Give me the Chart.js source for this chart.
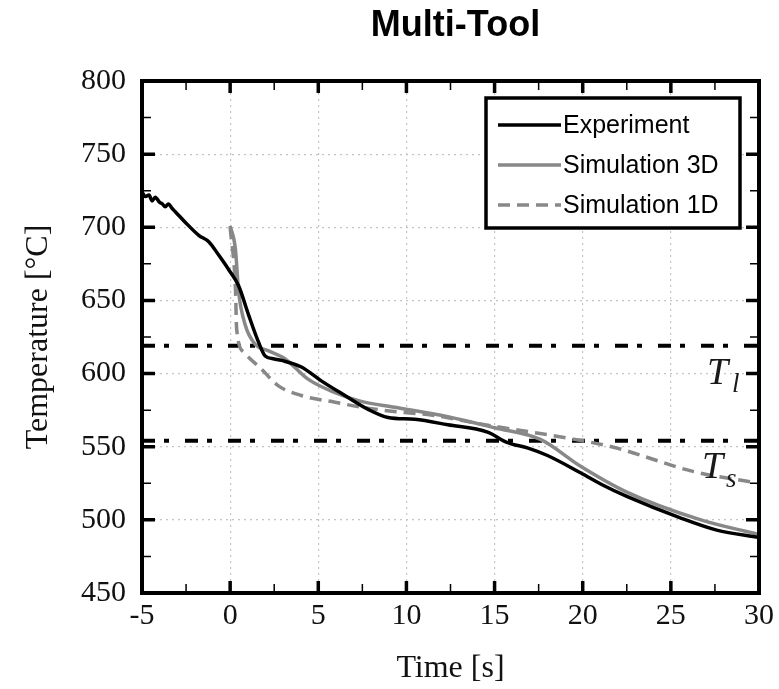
<!DOCTYPE html>
<html>
<head>
<meta charset="utf-8">
<script src="https://cdn.jsdelivr.net/npm/chart.js@4.4.0/dist/chart.umd.min.js"></script>
<style>
  html, body { margin: 0; padding: 0; background: #fff; }
  canvas { display: block; }
</style>
</head>
<body>
<canvas id="grafico" width="779" height="689"></canvas>
<script>
// dados
const expTime = [-5, -4.8, -4.6, -4.43, -4.25, -4.0, -3.85, -3.68, -3.5, -3.3, -3.1, -2.55, -1.78, -1.2, -0.65, -0.08, 0.48, 1.05, 1.61, 1.99, 2.5, 2.91, 4.04, 5.17, 6.51, 7.83, 8.96, 10.47, 12.35, 14.6, 15.7, 16.9, 18.0, 19.9, 21.1, 22.5, 25.5, 27.6, 30];
const expTemp = [724, 721, 722, 718, 720.5, 717, 716, 714, 716, 713, 710.5, 703.5, 694.5, 690, 681, 671, 660, 640, 621.5, 612, 610, 609, 604.5, 595, 585, 575.5, 570, 568.7, 565, 560, 553, 549, 544, 532, 524, 516, 501.5, 493, 488];

const sim3dTime = [0, 0.3, 0.48, 0.86, 1.43, 2.18, 3.12, 4.44, 5.95, 7.44, 9.34, 12.35, 15, 17.6, 19.9, 22.5, 26.7, 30];
const sim3dTemp = [701, 685, 656, 633, 620, 615.5, 610, 596, 587, 581, 577, 570.5, 563, 555, 536.5, 519, 500, 490];

const sim1dTime = [0, 0.3, 0.37, 0.77, 1.78, 2.74, 4.04, 5.95, 7.44, 9.7, 11.2, 14.45, 19.1, 21.8, 26.3, 30];
const sim1dTemp = [700, 658, 630.5, 614.6, 603, 591.6, 585, 580.4, 577, 573.5, 572, 565, 556, 549.5, 533, 525];

const tLiquidus = 619;
const tSolidus = 554;

const xTicks = [-5, 0, 5, 10, 15, 20, 25, 30];
const yTicks = [450, 500, 550, 600, 650, 700, 750, 800];

const cinza = '#888888';
const serif = "'Liberation Serif', 'Times New Roman', serif";
const sans = "'Liberation Sans', Arial, sans-serif";

function pontos(xs, ys) {
  return xs.map((x, i) => ({ x: x, y: ys[i] }));
}

// moldura grossa com ticks para dentro
const moldura = {
  id: 'moldura',
  afterDatasetsDraw(chart) {
    const { ctx, chartArea: a, scales: { x, y } } = chart;
    ctx.save();
    ctx.strokeStyle = '#000';
    ctx.lineCap = 'butt';
    for (let i = 0; i < xTicks.length; i++) {
      const px = x.getPixelForValue(xTicks[i]);
      ctx.lineWidth = 3.5;
      ctx.beginPath();
      ctx.moveTo(px, a.bottom); ctx.lineTo(px, a.bottom - 12);
      ctx.moveTo(px, a.top); ctx.lineTo(px, a.top + 12);
      ctx.stroke();
      if (i < xTicks.length - 1) {
        const pm = x.getPixelForValue((xTicks[i] + xTicks[i + 1]) / 2);
        ctx.lineWidth = 1.5;
        ctx.beginPath();
        ctx.moveTo(pm, a.bottom); ctx.lineTo(pm, a.bottom - 9);
        ctx.moveTo(pm, a.top); ctx.lineTo(pm, a.top + 9);
        ctx.stroke();
      }
    }
    for (let i = 0; i < yTicks.length; i++) {
      const py = y.getPixelForValue(yTicks[i]);
      ctx.lineWidth = 3.5;
      ctx.beginPath();
      ctx.moveTo(a.left, py); ctx.lineTo(a.left + 13, py);
      ctx.moveTo(a.right, py); ctx.lineTo(a.right - 13, py);
      ctx.stroke();
      if (i < yTicks.length - 1) {
        const pm = y.getPixelForValue((yTicks[i] + yTicks[i + 1]) / 2);
        ctx.lineWidth = 1.5;
        ctx.beginPath();
        ctx.moveTo(a.left, pm); ctx.lineTo(a.left + 9, pm);
        ctx.moveTo(a.right, pm); ctx.lineTo(a.right - 9, pm);
        ctx.stroke();
      }
    }
    ctx.lineWidth = 4;
    ctx.strokeRect(a.left, a.top, a.right - a.left, a.bottom - a.top);

    // rótulos T_l e T_s
    ctx.fillStyle = '#1a1a1a';
    ctx.textBaseline = 'alphabetic';
    const yl = y.getPixelForValue(tLiquidus);
    const ys = y.getPixelForValue(tSolidus);
    ctx.font = 'italic 38px ' + serif;
    ctx.fillText('T', a.right - 52, yl + 38);
    ctx.fillText('T', a.right - 57, ys + 37);
    ctx.font = 'italic 27px ' + serif;
    ctx.fillText('l', a.right - 27, yl + 46);
    ctx.fillText('s', a.right - 33, ys + 46);

    // título
    ctx.fillStyle = '#000';
    ctx.font = 'bold 36px ' + sans;
    ctx.textAlign = 'center';
    ctx.textBaseline = 'middle';
    ctx.fillText('Multi-Tool', (a.left + a.right) / 2 + 5, 26);
    ctx.restore();
  }
};

// legenda em caixa
const legenda = {
  id: 'legenda',
  afterDraw(chart) {
    const { ctx } = chart;
    const bx = 486, by = 98, bw = 254, bh = 130;
    ctx.save();
    ctx.fillStyle = '#fff';
    ctx.fillRect(bx, by, bw, bh);
    ctx.strokeStyle = '#000';
    ctx.lineWidth = 3.5;
    ctx.strokeRect(bx, by, bw, bh);
    ctx.font = '25px ' + sans;
    ctx.textBaseline = 'middle';
    const itens = chart.data.datasets.slice(0, 3);
    itens.forEach((ds, i) => {
      const ly = by + 27 + i * 40;
      ctx.strokeStyle = ds.borderColor;
      ctx.lineWidth = ds.borderWidth;
      ctx.setLineDash(ds.borderDash || []);
      ctx.beginPath();
      ctx.moveTo(bx + 12, ly);
      ctx.lineTo(bx + 75, ly);
      ctx.stroke();
      ctx.setLineDash([]);
      ctx.fillStyle = '#000';
      ctx.fillText(ds.label, bx + 77, ly + 1);
    });
    ctx.restore();
  }
};

new Chart(document.getElementById('grafico'), {
  type: 'line',
  data: {
    datasets: [
      {
        label: 'Experiment',
        data: pontos(expTime, expTemp),
        borderColor: '#000',
        borderWidth: 3.5,
        pointRadius: 0,
        cubicInterpolationMode: 'monotone'
      },
      {
        label: 'Simulation 3D',
        data: pontos(sim3dTime, sim3dTemp),
        borderColor: cinza,
        borderWidth: 3.5,
        pointRadius: 0,
        cubicInterpolationMode: 'monotone'
      },
      {
        label: 'Simulation 1D',
        data: pontos(sim1dTime, sim1dTemp),
        borderColor: cinza,
        borderWidth: 3.5,
        borderDash: [12, 7],
        pointRadius: 0,
        cubicInterpolationMode: 'monotone'
      },
      {
        label: 'Tl',
        data: pontos([xTicks[0], xTicks[xTicks.length - 1]], [tLiquidus, tLiquidus]),
        borderColor: '#000',
        borderWidth: 4,
        borderDash: [13, 9, 5, 16],
        pointRadius: 0
      },
      {
        label: 'Ts',
        data: pontos([xTicks[0], xTicks[xTicks.length - 1]], [tSolidus, tSolidus]),
        borderColor: '#000',
        borderWidth: 4,
        borderDash: [13, 9, 5, 16],
        pointRadius: 0
      }
    ]
  },
  options: {
    responsive: false,
    animation: false,
    layout: { padding: { left: 0, right: 17, top: 81, bottom: 0 } },
    plugins: {
      legend: { display: false },
      title: { display: false },
      tooltip: { enabled: false }
    },
    scales: {
      x: {
        type: 'linear',
        min: -5,
        max: 30,
        afterBuildTicks: s => { s.ticks = xTicks.map(v => ({ value: v })); },
        afterFit: s => { s.height = 96; },
        grid: { color: '#c4c4c4', lineWidth: 1.2, drawTicks: false },
        border: { display: false, dash: [2, 4] },
        ticks: { color: '#111', padding: 5, font: { family: serif, size: 30 }, maxRotation: 0 },
        title: { display: true, text: 'Time [s]', color: '#111', font: { family: serif, size: 32 }, padding: { top: 0, bottom: 1 } }
      },
      y: {
        min: 450,
        max: 800,
        afterBuildTicks: s => { s.ticks = yTicks.map(v => ({ value: v })); },
        afterFit: s => { s.width = 142; },
        grid: { color: '#c4c4c4', lineWidth: 1.2, drawTicks: false },
        border: { display: false, dash: [2, 4] },
        ticks: { color: '#111', padding: 16, font: { family: serif, size: 30 } },
        title: { display: true, text: 'Temperature [°C]', color: '#111', font: { family: serif, size: 32 }, padding: { top: 19, bottom: 0 } }
      }
    }
  },
  plugins: [moldura, legenda]
});
</script>
</body>
</html>
